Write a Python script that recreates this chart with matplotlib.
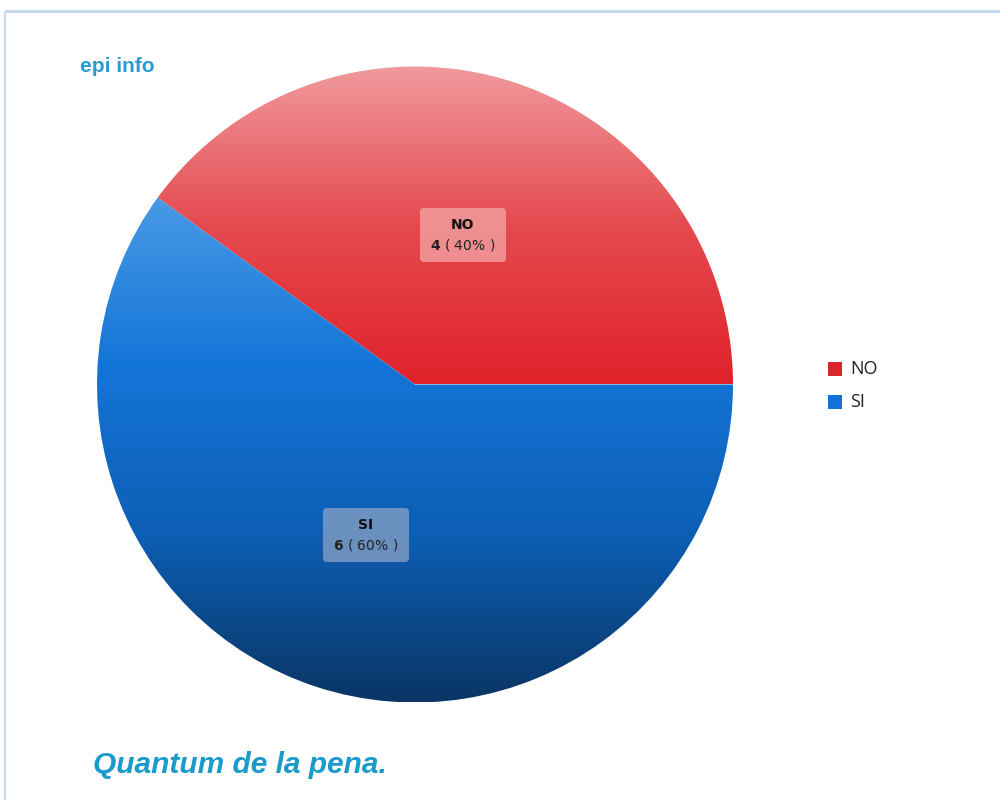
import matplotlib
matplotlib.use("Agg")
import matplotlib.pyplot as plt
import numpy as np
from matplotlib.colors import LinearSegmentedColormap
from matplotlib.patches import FancyBboxPatch, Rectangle

categories = ["NO", "SI"]
counts = [4, 6]
title = "Quantum de la pena."
brand = "epi info"

fig = plt.figure(figsize=(10, 8), dpi=100)
ax = fig.add_axes([0, 0, 1, 1])

# frame lines (top and left)
ax.plot([4.5, 1000], [789, 789], color="#c6d9ee", lw=2.2, solid_capstyle="butt")
ax.plot([4.5, 4.5], [0, 789], color="#c6d9ee", lw=1.5, solid_capstyle="butt")

cx, cy, r = 415, 415.5, 318
total = sum(counts)
wedges, _ = ax.pie(counts, startangle=0, counterclock=True, center=(cx, cy),
                   radius=r, frame=True,
                   wedgeprops=dict(facecolor="none", edgecolor="none"))

red_cmap = LinearSegmentedColormap.from_list("r", ["#e0222a", "#e54a50", "#f09a9d"])
blue_cmap = LinearSegmentedColormap.from_list("b", ["#0a3565", "#0d5fb5", "#1475d8", "#4a9be6"])
grad = np.linspace(0, 1, 256).reshape(-1, 1)
grad_list = [(red_cmap, (cy, cy + r)), (blue_cmap, (cy - r, cy + r * 0.6))]
for w, (cm, (y0, y1)) in zip(wedges, grad_list):
    im = ax.imshow(grad, cmap=cm, extent=(cx - r, cx + r, y0, y1),
                   origin="lower", aspect="auto", zorder=1)
    im.set_clip_path(w)

ax.set_xlim(0, 1000)
ax.set_ylim(0, 800)
ax.set_aspect("equal")
ax.axis("off")

# labels
label_pos = [(463, 565), (366, 265)]
box_colors = ["#f3a7a9", "#8aa2c4"]
for cat, n, (lx, ly), bc in zip(categories, counts, label_pos, box_colors):
    pct = round(100 * n / total)
    ax.add_patch(FancyBboxPatch((lx - 43, ly - 27), 86, 54,
                                boxstyle="round,pad=0,rounding_size=4",
                                facecolor=bc, edgecolor="none", alpha=0.75, zorder=3))
    ax.text(lx, ly + 10, cat, ha="center", va="center", fontsize=10,
            fontweight="bold", color="#111111", family="DejaVu Sans", zorder=4)
    ax.text(lx, ly - 10, f"$\\bf{{{n}}}$ ( {pct}% )", ha="center", va="center",
            fontsize=10, color="#222222", family="DejaVu Sans", zorder=4)

# legend
leg_colors = ["#d9262c", "#1473d6"]
for i, (cat, c) in enumerate(zip(categories, leg_colors)):
    y = 431 - i * 33
    ax.add_patch(Rectangle((828, y - 7), 14, 14, facecolor=c, edgecolor="none"))
    ax.text(850, y, cat, ha="left", va="center", fontsize=13, color="#222222",
            family="Open Sans")

ax.text(80, 733, brand, ha="left", va="center", fontsize=15, fontweight="bold",
        color="#2b9bd0", family="Liberation Sans")
ax.text(93, 35, title, ha="left", va="center", fontsize=21.5, fontweight="bold",
        fontstyle="italic", color="#1a9bcb", family="Liberation Sans")

fig.savefig("out.png", dpi=100, facecolor="white")
